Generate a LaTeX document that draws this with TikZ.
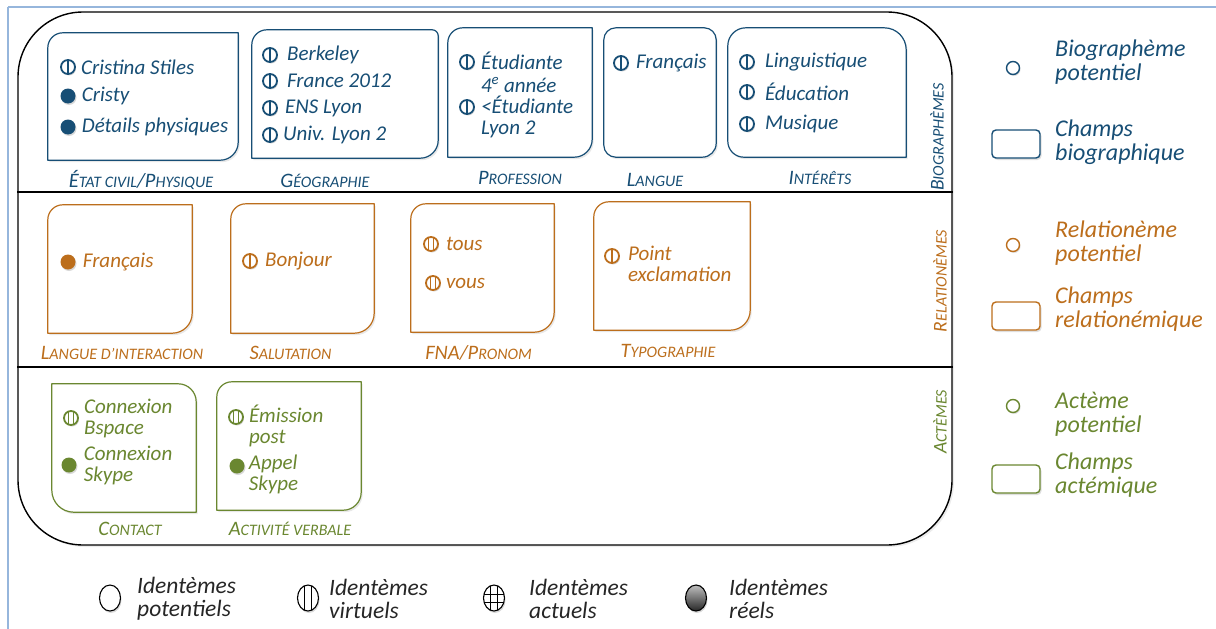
\documentclass[tikz,border=0pt]{standalone}
\usepackage{fontspec}
\setmainfont{Carlito}
\usetikzlibrary{positioning,calc,shapes.geometric,shadows}

\definecolor{bio}{RGB}{23,78,117}
\definecolor{rel}{RGB}{188,110,28}
\definecolor{act}{RGB}{106,135,48}
\definecolor{cadre}{RGB}{150,182,220}

% fake small caps
\newcommand\grand[1]{{\fontsize{20.5}{20}\selectfont #1}}
\newcommand\petit[1]{{\fontsize{16}{16}\selectfont #1}}
\newcommand\vgrand[1]{{\fontsize{19.5}{19}\selectfont #1}}
\newcommand\vpetit[1]{{\fontsize{16}{16}\selectfont #1}}

% champ outline: node, colour, radii TL, TR, BR, BL
\newcommand\champ[6]{%
  \draw[#2, line width=1.2pt, fill=white,
        drop shadow={opacity=0.18, shadow xshift=1.5pt, shadow yshift=-2pt}]
    ($(#1.north west)+(0pt,-#3)$) arc[start angle=180, end angle=90, radius=#3]
    -- ($(#1.north east)+(-#4,0pt)$) arc[start angle=90, end angle=0, radius=#4]
    -- ($(#1.south east)+(0pt,#5)$) arc[start angle=0, end angle=-90, radius=#5]
    -- ($(#1.south west)+(#6,0pt)$) arc[start angle=-90, end angle=-180, radius=#6]
    -- cycle;}

\begin{document}
\begin{tikzpicture}[
  x=1pt, y=-1pt,
  font=\fontsize{21}{21}\selectfont\itshape,
  champ/.style args={#1/#2}{minimum width=#1pt, minimum height=#2pt, inner sep=0pt},
  titre/.style={text=#1, inner sep=0pt, anchor=base},
  itm/.style={text=#1, inner sep=0pt, align=left},
  virt/.style={circle, draw=#1, line width=1.8pt, fill=white,
               minimum size=14pt, inner sep=0pt,
               drop shadow={opacity=0.3, shadow xshift=1pt, shadow yshift=-1.5pt},
               path picture={\draw[#1, line width=1.6pt]
                 (path picture bounding box.north) -- (path picture bounding box.south);}},
  virtd/.style={circle, draw=#1, line width=1.8pt, fill=white,
               minimum size=14pt, inner sep=0pt,
               drop shadow={opacity=0.3, shadow xshift=1pt, shadow yshift=-1.5pt},
               path picture={\draw[#1, line width=1.3pt]
                 ($(path picture bounding box.north)+(-2.2pt,0pt)$) -- ($(path picture bounding box.south)+(-2.2pt,0pt)$)
                 ($(path picture bounding box.north)+(2.2pt,0pt)$) -- ($(path picture bounding box.south)+(2.2pt,0pt)$);}},
  reel/.style={circle, fill=#1, minimum size=15pt, inner sep=0pt,
               drop shadow={opacity=0.3, shadow xshift=1pt, shadow yshift=-1.5pt}},
  pot/.style={circle, draw=#1, line width=1.4pt, fill=white,
              minimum size=13pt, inner sep=0pt,
              drop shadow={opacity=0.25, shadow xshift=1pt, shadow yshift=-1.5pt}},
  legrect/.style={draw=#1, line width=1.4pt, fill=white, rounded corners=4pt,
                  minimum width=48pt, minimum height=28pt, inner sep=0pt,
                  drop shadow={opacity=0.25, shadow xshift=1.5pt, shadow yshift=-2pt}},
  leg/.style={text=#1, inner sep=0pt, align=left, anchor=west,
              font=\fontsize{24}{24}\selectfont\itshape},
  ident/.style={ellipse, draw=black, line width=1.1pt, fill=white,
                minimum width=21pt, minimum height=26pt, inner sep=0pt,
                drop shadow={opacity=0.3, shadow xshift=1pt, shadow yshift=-2pt}},
  idtxt/.style={text=black!85, inner sep=0pt, align=left, anchor=west,
                font=\fontsize{23.5}{23}\selectfont\itshape},
]
\useasboundingbox (0,0) rectangle (1216,629);

\draw[cadre, line width=1.5pt] (8,7) -- (1230,7);
\draw[cadre, line width=1.5pt] (8,7) -- (8,640);

% big frame and rows
\node[draw, line width=1.4pt, fill=white, rounded corners=65pt,
      minimum width=934pt, minimum height=533pt,
      drop shadow={opacity=0.15, shadow xshift=2pt, shadow yshift=-2pt}] (tout) at (485,278.5) {};
\draw[line width=1.2pt] (tout.west |- 0,192) -- (tout.east |- 0,192);
\draw[line width=1.2pt] (tout.west |- 0,367) -- (tout.east |- 0,367);

%%% biographemes
\node[champ=190/127] (etat) at (143,96.5) {};
\node[champ=186/128] (geo) at (345,94) {};
\node[champ=144/129] (prof) at (520,92.5) {};
\node[champ=112/129] (lang) at (660,92.5) {};
\node[champ=178/129] (inter) at (817,92.5) {};
\champ{etat}{bio}{15pt}{0.01pt}{18pt}{0.01pt}
\champ{geo}{bio}{15pt}{6pt}{18pt}{0.01pt}
\champ{prof}{bio}{15pt}{0.01pt}{18pt}{0.01pt}
\champ{lang}{bio}{12pt}{12pt}{14pt}{12pt}
\champ{inter}{bio}{18pt}{22pt}{0.01pt}{16pt}

\node[titre=bio, below=27pt of etat, anchor=base, xshift=-2pt] (etatlbl)
  {\grand{É}\petit{TAT CIVIL}\grand{/P}\petit{HYSIQUE}};
\node[titre=bio, below=29pt of geo, anchor=base, xshift=-20pt] (geolbl) {\grand{G}\petit{ÉOGRAPHIE}};
\node[titre=bio, below=27pt of prof, anchor=base] (proflbl) {\grand{P}\petit{ROFESSION}};
\node[titre=bio, below=29pt of lang, anchor=base, xshift=-5pt] (langlbl) {\grand{L}\petit{ANGUE}};
\node[titre=bio, below=27pt of inter, anchor=base, xshift=3pt] (interlbl) {\grand{I}\petit{NTÉRÊTS}};
\node[text=bio, inner sep=0pt, rotate=90] (biolbl) at (937,137) {\vgrand{B}\vpetit{IOGRAPHÈMES}};

\node[virt=bio] (cs) at (68,67) {};
\node[itm=bio, right=5pt of cs] (cstxt) {Cristina Stiles};
\node[reel=bio] (cy) at (68,96) {};
\node[itm=bio, right=6pt of cy] (cytxt) {Cristy};
\node[reel=bio] (dp) at (68,127) {};
\node[itm=bio, right=6pt of dp] (dptxt) {Détails physiques};

\node[virt=bio] (bk) at (270,55) {};
\node[itm=bio, right=9pt of bk] (bktxt) {Berkeley};
\node[virt=bio] (fr) at (270,81) {};
\node[itm=bio, right=9pt of fr] (frtxt) {France 2012};
\node[virt=bio] (ens) at (270,108) {};
\node[itm=bio, right=7pt of ens] (enstxt) {ENS Lyon};
\node[virt=bio] (ul) at (270,135) {};
\node[itm=bio, right=5pt of ul] (ultxt) {Univ. Lyon 2};

\node[virt=bio] (et1) at (467,62) {};
\node[itm=bio, right=6pt of et1, yshift=-10.5pt] (et1txt)
  {Étudiante\\[1.5pt]4\textsuperscript{e} année};
\node[virt=bio] (et2) at (467,107) {};
\node[itm=bio, right=6pt of et2, yshift=-9.5pt] (et2txt)
  {<Étudiante\\Lyon 2};

\node[virt=bio] (fra) at (621,63) {};
\node[itm=bio, right=7pt of fra] (fratxt) {Français};

\node[virt=bio] (ling) at (747,62) {};
\node[itm=bio, right=10pt of ling] (lingtxt) {Linguistique};
\node[virt=bio] (edu) at (747,92) {};
\node[itm=bio, right=10pt of edu] (edutxt) {Éducation};
\node[virt=bio] (mus) at (747,124) {};
\node[itm=bio, right=10pt of mus] (mustxt) {Musique};

%%% relationemes
\node[champ=144/128] (langint) at (120,269) {};
\node[champ=143/129] (salut) at (302.5,268.5) {};
\node[champ=143/128] (fna) at (482.5,268) {};
\node[champ=156/128] (typo) at (672,266) {};
\champ{langint}{rel}{15pt}{0.01pt}{20pt}{0.01pt}
\champ{salut}{rel}{15pt}{0.01pt}{20pt}{0.01pt}
\champ{fna}{rel}{15pt}{0.01pt}{20pt}{0.01pt}
\champ{typo}{rel}{15pt}{0.01pt}{20pt}{0.01pt}

\node[titre=rel, below=26pt of langint, anchor=base, xshift=2pt] (langintlbl)
  {\grand{L}\petit{ANGUE D’INTERACTION}};
\node[titre=rel, below=26pt of salut, anchor=base, xshift=-12pt] (salutlbl) {\grand{S}\petit{ALUTATION}};
\node[titre=rel, below=27pt of fna, anchor=base, xshift=-4pt] (fnalbl) {\grand{FNA/P}\petit{RONOM}};
\node[titre=rel, below=27pt of typo, anchor=base, xshift=-4pt] (typolbl) {\grand{T}\petit{YPOGRAPHIE}};
\node[text=rel, inner sep=0pt, rotate=90] (rellbl) at (940,281) {\vgrand{R}\vpetit{ELATIONÈMES}};

\node[reel=rel] (fri) at (68,262) {};
\node[itm=rel, right=7pt of fri] (fritxt) {Français};
\node[virt=rel] (bj) at (250,261) {};
\node[itm=rel, right=7pt of bj] (bjtxt) {Bonjour};
\node[virtd=rel] (tu) at (431,244) {};
\node[itm=rel, right=7pt of tu] (tutxt) {tous};
\node[virtd=rel] (vo) at (433,283) {};
\node[itm=rel, right=5pt of vo] (votxt) {vous};
\node[virt=rel] (pe) at (612,256) {};
\node[itm=rel, right=8pt of pe, yshift=-8pt] (petxt)
  {Point\\exclamation};

%%% actemes
\node[champ=144/128] (contact) at (124,448) {};
\node[champ=144/128] (activ) at (289,446) {};
\champ{contact}{act}{0.01pt}{18pt}{0.01pt}{22pt}
\champ{activ}{act}{15pt}{0.01pt}{18pt}{0.01pt}

\node[titre=act, below=23pt of contact, anchor=base, xshift=6pt] (contactlbl) {\grand{C}\petit{ONTACT}};
\node[titre=act, below=25pt of activ, anchor=base, xshift=1pt] (activlbl)
  {\grand{A}\petit{CTIVITÉ VERBALE}};
\node[text=act, inner sep=0pt, rotate=90] (actlbl) at (940,422) {\vgrand{A}\vpetit{CTÈMES}};

\node[virtd=act] (cb) at (71,418) {};
\node[itm=act, right=5pt of cb] (cbtxt)
  {Connexion\\Bspace};
\node[reel=act] (csk) at (69,465) {};
\node[itm=act, right=7pt of csk] (csktxt)
  {Connexion\\Skype};
\node[virtd=act] (ep) at (236,417) {};
\node[itm=act, right=5pt of ep, yshift=-9pt] (eptxt)
  {Émission\\post};
\node[reel=act] (ap) at (237,466) {};
\node[itm=act, right=4pt of ap, yshift=-8.5pt] (aptxt)
  {Appel\\Skype};

%%% legende droite
\node[pot=bio] (lgbio) at (1013,68) {};
\node[leg=bio] (lgbiotxt) at (1055,62) {Biographème\\potentiel};
\node[legrect=bio] (lgchb) at (1016,144) {};
\node[leg=bio] (lgchbtxt) at (1055,142) {Champs\\biographique};
\node[pot=rel] (lgrel) at (1013,245) {};
\node[leg=rel] (lgreltxt) at (1055,243) {Relationème\\potentiel};
\node[legrect=rel] (lgchr) at (1016,316) {};
\node[leg=rel] (lgchrtxt) at (1055,309) {Champs\\relationémique};
\node[pot=act] (lgact) at (1013,406) {};
\node[leg=act] (lgacttxt) at (1055,414) {Actème\\potentiel};
\node[legrect=act] (lgcha) at (1016,479) {};
\node[leg=act] (lgchatxt) at (1055,475) {Champs\\actémique};

%%% legende bas
\node[ident] (ipot) at (110,598) {};
\node[idtxt] (ipottxt) at (137,599) {Identèmes\\potentiels};
\node[ident, path picture={\draw[line width=1pt]
    ($(path picture bounding box.north)+(-3.5pt,0pt)$) -- ($(path picture bounding box.south)+(-3.5pt,0pt)$)
    ($(path picture bounding box.north)+(3.5pt,0pt)$) -- ($(path picture bounding box.south)+(3.5pt,0pt)$);}]
  (ivirt) at (308,598) {};
\node[idtxt] (ivirttxt) at (329,599) {Identèmes\\virtuels};
\node[ident, path picture={\draw[line width=1pt]
    ($(path picture bounding box.north)+(-3.5pt,0pt)$) -- ($(path picture bounding box.south)+(-3.5pt,0pt)$)
    ($(path picture bounding box.north)+(3.5pt,0pt)$) -- ($(path picture bounding box.south)+(3.5pt,0pt)$)
    ($(path picture bounding box.west)+(0pt,-4pt)$) -- ($(path picture bounding box.east)+(0pt,-4pt)$)
    ($(path picture bounding box.west)+(0pt,4pt)$) -- ($(path picture bounding box.east)+(0pt,4pt)$);}]
  (iact) at (494,598) {};
\node[idtxt] (iacttxt) at (529,599) {Identèmes\\actuels};
\node[ident, top color=black!25, bottom color=black!85] (ireel) at (696,598) {};
\node[idtxt] (ireeltxt) at (729,599) {Identèmes\\réels};

\end{tikzpicture}
\end{document}
